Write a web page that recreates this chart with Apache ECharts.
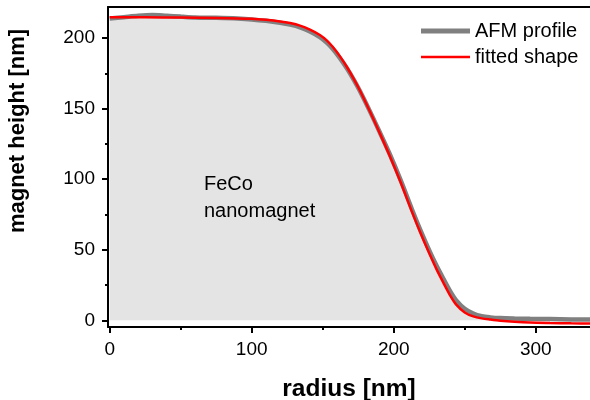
<!DOCTYPE html>
<html>
<head>
<meta charset="utf-8">
<script src="https://cdn.jsdelivr.net/npm/echarts@6/dist/echarts.min.js"></script>
<style>
html,body{margin:0;padding:0;background:#fff;}
#chart{width:590px;height:400px;}
</style>
</head>
<body>
<div id="chart"></div>
<script>
// ---- data ----
var xFit = [0, 25, 50, 75, 100, 110, 120, 127, 134, 141, 148, 153, 157, 162, 167, 172, 176, 183, 190, 197, 205, 213, 219, 225, 230, 235, 240, 244, 250, 256, 262, 268, 275, 285, 296, 310, 325, 340];
var yFit = [214.8, 214.7, 214.5, 214.2, 213.6, 212.9, 211.8, 210.6, 208.8, 206.0, 202.2, 198.2, 193.8, 187.2, 179.5, 170.8, 163.2, 148.5, 133, 117, 97.5, 76.5, 61.5, 47.5, 36.5, 26.6, 17.2, 11.2, 5.6, 2.8, 1.4, 0.6, -0.2, -1.0, -1.6, -1.9, -2.1, -2.2];
var xAfm = [0, 10, 20, 30, 40, 50, 60, 75, 90, 100, 110, 120, 127, 134, 141, 148, 153, 157, 162, 167, 172, 176, 183, 190, 197, 205, 213, 219, 225, 230, 235, 240, 244, 250, 256, 262, 268, 275, 285, 296, 310, 325, 340];
var yAfm = [213.8, 214.8, 215.8, 216.3, 215.8, 215.2, 214.6, 214.3, 213.8, 213.2, 212.2, 210.8, 209.5, 207.6, 204.6, 200.6, 196.6, 192.4, 186.0, 178.6, 170.2, 162.8, 148.6, 133.6, 118.2, 99.0, 78.2, 63.4, 49.6, 39.0, 29.4, 20.2, 14.2, 8.2, 4.8, 2.9, 2.1, 1.6, 1.3, 1.1, 0.9, 0.7, 0.6];
var xMajorTicks = [0, 100, 200, 300];
var xMinorTicks = [50, 150, 250];
var yMajorTicks = [0, 50, 100, 150, 200];
var yMinorTicks = [25, 75, 125, 175];
var seriesNames = ['AFM profile', 'fitted shape'];
var xTitle = 'radius [nm]';
var yTitle = 'magnet height [nm]';
var noteLines = ['FeCo', 'nanomagnet'];

// ---- chart ----
var X_MIN = -1.2, X_MAX = 338.2, Y_MIN = -4.7, Y_MAX = 222;
var FONT = '"Liberation Sans", Arial, sans-serif';
function pairs(xs, ys){ return xs.map(function(x,i){ return [x, ys[i]]; }); }
var axisLineStyle = {color:'#000', width:2};
var thickIcon = 'path://M0,0 L10,0 L10,1 L0,1 Z';
var thinIcon = 'path://M0,0 L20,0 L20,1 L0,1 Z';

var chart = echarts.init(document.getElementById('chart'), null, {renderer:'canvas'});
chart.setOption({
  animation:false,
  backgroundColor:'#fff',
  grid:{left:108, right:0, top:7, bottom:73, containLabel:false, outerBoundsMode:'none'},
  legend:{
    orient:'vertical', left:416, top:16, itemGap:6, itemWidth:49, itemHeight:20,
    textStyle:{fontFamily:FONT, fontSize:20, color:'#000'},
    data:[{name:seriesNames[0], icon:thickIcon, itemStyle:{color:'#808080'}},
          {name:seriesNames[1], icon:thinIcon, itemStyle:{color:'#ff0000'}}]
  },
  xAxis:[{
    type:'value', min:X_MIN, max:X_MAX, position:'bottom',
    axisLine:{show:true, onZero:false, lineStyle:axisLineStyle},
    axisTick:{show:true, customValues:xMajorTicks, length:6, lineStyle:{color:'#000', width:2}},
    axisLabel:{show:true, customValues:xMajorTicks, margin:13, fontFamily:FONT, fontSize:19, color:'#000'},
    splitLine:{show:false},
    name:xTitle, nameLocation:'middle', nameGap:50,
    nameTextStyle:{fontFamily:FONT, fontSize:24.5, fontWeight:'bold', color:'#000'}
  },{
    type:'value', min:X_MIN, max:X_MAX, position:'bottom',
    axisLine:{show:false, onZero:false},
    axisTick:{show:true, customValues:xMinorTicks, length:3, lineStyle:{color:'#000', width:2}},
    axisLabel:{show:false}, splitLine:{show:false}
  },{
    type:'value', min:X_MIN, max:X_MAX, position:'top',
    axisLine:{show:true, onZero:false, lineStyle:axisLineStyle},
    axisTick:{show:false}, axisLabel:{show:false}, splitLine:{show:false}
  }],
  yAxis:[{
    type:'value', min:Y_MIN, max:Y_MAX, position:'left',
    axisLine:{show:true, onZero:false, lineStyle:axisLineStyle},
    axisTick:{show:true, customValues:yMajorTicks, length:6, lineStyle:{color:'#000', width:2}},
    axisLabel:{show:true, customValues:yMajorTicks, margin:13, fontFamily:FONT, fontSize:19, color:'#000'},
    splitLine:{show:false},
    name:yTitle, nameLocation:'middle', nameGap:79, nameRotate:90,
    nameTextStyle:{fontFamily:FONT, fontSize:22, fontWeight:'bold', color:'#000', padding:[0,0,0,72]}
  },{
    type:'value', min:Y_MIN, max:Y_MAX, position:'left',
    axisLine:{show:false, onZero:false},
    axisTick:{show:true, customValues:yMinorTicks, length:3, lineStyle:{color:'#000', width:2}},
    axisLabel:{show:false}, splitLine:{show:false}
  }],
  graphic:[{
    type:'text', left:204, top:171,
    style:{text:noteLines.join('\n'), fontFamily:FONT, fontSize:20, lineHeight:27, fill:'#000'},
    z:10
  }],
  series:[{
    name:seriesNames[0], type:'line', xAxisIndex:0, yAxisIndex:0,
    data:pairs(xAfm, yAfm), showSymbol:false, symbol:'none', smooth:0.3,
    lineStyle:{color:'#808080', width:4.5},
    itemStyle:{color:'#808080'},
    areaStyle:{color:'#e4e4e4', opacity:1, origin:0},
    z:2
  },{
    name:seriesNames[1], type:'line', xAxisIndex:0, yAxisIndex:0,
    data:pairs(xFit, yFit), showSymbol:false, symbol:'none', smooth:0.3,
    lineStyle:{color:'#ff0000', width:2.5},
    itemStyle:{color:'#ff0000'},
    z:3
  }]
});
</script>
</body>
</html>
